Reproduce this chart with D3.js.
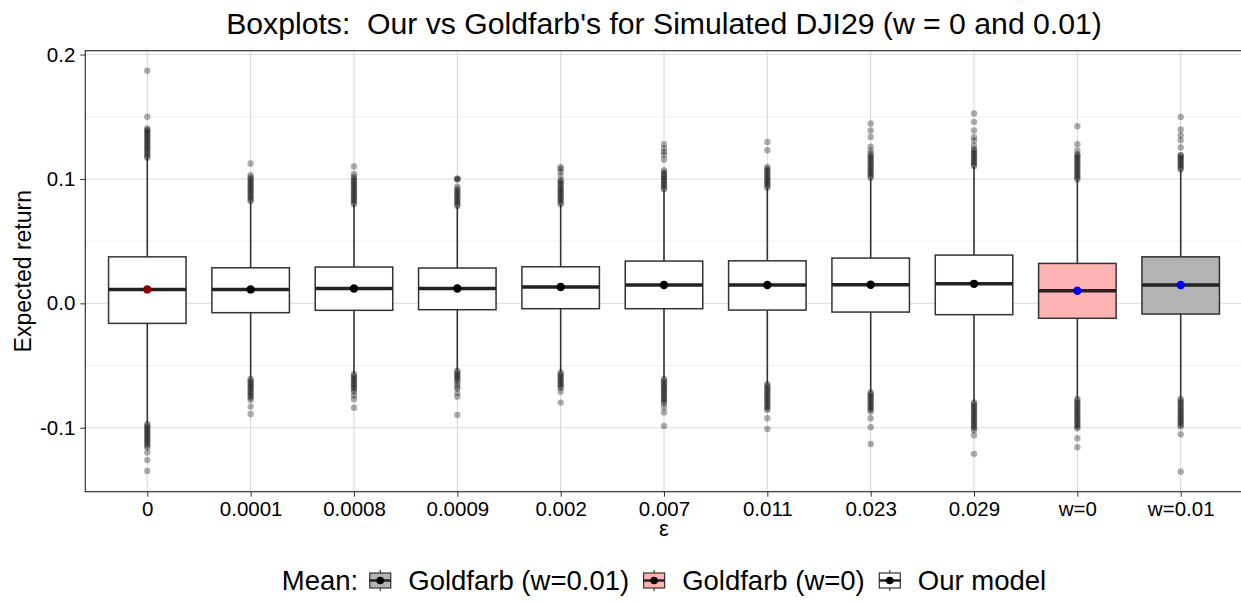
<!DOCTYPE html>
<html>
<head>
<meta charset="utf-8">
<script src="https://cdn.jsdelivr.net/npm/d3@7"></script>
<style>
  body { margin: 0; background: #fff; }
  text { font-family: "Liberation Sans", Arial, Helvetica, sans-serif; }
</style>
</head>
<body>
<div id="chart"></div>
<script>
// categories on the x axis
var categories = ['0', '0.0001', '0.0008', '0.0009', '0.002', '0.007', '0.011', '0.023', '0.029', 'w=0', 'w=0.01'];
var groups = ['Our model', 'Our model', 'Our model', 'Our model', 'Our model', 'Our model',
              'Our model', 'Our model', 'Our model', 'Goldfarb (w=0)', 'Goldfarb (w=0.01)'];

// box statistics
var q1       = [-0.0161, -0.0075, -0.0056, -0.0051, -0.0043, -0.0043, -0.0054, -0.0070, -0.0091, -0.0120, -0.0086];
var medians  = [ 0.0112,  0.0112,  0.0120,  0.0120,  0.0131,  0.0147,  0.0147,  0.0150,  0.0157,  0.0101,  0.0147];
var q3       = [ 0.0374,  0.0286,  0.0292,  0.0284,  0.0294,  0.0340,  0.0342,  0.0364,  0.0388,  0.0321,  0.0374];
var whiskLo  = [-0.0964, -0.0602, -0.0562, -0.0536, -0.0550, -0.0602, -0.0643, -0.0710, -0.0790, -0.0763, -0.0763];
var whiskHi  = [ 0.1165,  0.0816,  0.0790,  0.0776,  0.0790,  0.0910,  0.0924,  0.1004,  0.1097,  0.0990,  0.1070];
var means    = [ 0.0112,  0.0112,  0.0120,  0.0120,  0.0131,  0.0147,  0.0147,  0.0150,  0.0157,  0.0101,  0.0147];
var meanColors = ['#8b0000', '#000', '#000', '#000', '#000', '#000', '#000', '#000', '#000', '#0000ff', '#0000ff'];

// outliers, upper and lower, per category
var outliers = [
  [0.117,0.1182,0.1196,0.121,0.1223,0.1238,0.125,0.1264,0.1277,0.129,0.1305,0.1318,0.133,0.1345,0.1358,0.137,0.1384,0.1396,0.1406,0.150,0.187,
   -0.097,-0.0983,-0.0996,-0.101,-0.1022,-0.1036,-0.105,-0.1062,-0.1076,-0.109,-0.1103,-0.1117,-0.113,-0.1145,-0.116,-0.120,-0.126,-0.1347],
  [0.0822,0.0835,0.0848,0.0862,0.0875,0.0889,0.0903,0.0916,0.093,0.0944,0.0957,0.097,0.0985,0.0998,0.1012,0.103,0.1124,
   -0.0608,-0.0621,-0.0634,-0.0648,-0.0662,-0.0675,-0.0689,-0.0702,-0.0716,-0.073,-0.0744,-0.0758,-0.0777,-0.083,-0.0889],
  [0.0797,0.081,0.0824,0.0838,0.0851,0.0865,0.0879,0.0892,0.0906,0.092,0.0933,0.0947,0.096,0.0975,0.0988,0.1003,0.1017,0.104,0.110,
   -0.0568,-0.0581,-0.0595,-0.0608,-0.0622,-0.0636,-0.065,-0.0664,-0.0678,-0.0692,-0.071,-0.074,-0.077,-0.0839],
  [0.0782,0.0795,0.0809,0.0823,0.0836,0.085,0.0864,0.0878,0.0891,0.0905,0.092,0.0937,0.0995,0.100,0.1005,
   -0.0542,-0.0555,-0.0569,-0.0583,-0.0596,-0.061,-0.0624,-0.0645,-0.0668,-0.0685,-0.072,-0.075,-0.0897],
  [0.0797,0.081,0.0824,0.0838,0.0851,0.0865,0.0879,0.0893,0.0906,0.092,0.0935,0.095,0.0965,0.098,0.099,0.1025,0.1057,0.108,0.1097,
   -0.0556,-0.0569,-0.0583,-0.0597,-0.061,-0.0624,-0.0638,-0.0652,-0.0666,-0.068,-0.071,-0.0798],
  [0.0917,0.093,0.0944,0.0958,0.0971,0.0985,0.0999,0.1012,0.1026,0.104,0.1055,0.107,0.1157,0.1195,0.1218,0.1245,0.128,
   -0.0608,-0.0621,-0.0635,-0.0649,-0.0662,-0.0676,-0.069,-0.0704,-0.0718,-0.0732,-0.0746,-0.076,-0.0775,-0.079,-0.0803,-0.0835,-0.0878,-0.0986],
  [0.093,0.0943,0.0957,0.0971,0.0984,0.0998,0.1012,0.1026,0.104,0.1054,0.1068,0.1082,0.1097,0.1231,0.1298,
   -0.0649,-0.0662,-0.0676,-0.069,-0.0704,-0.0718,-0.0732,-0.0746,-0.076,-0.0774,-0.0788,-0.0802,-0.0816,-0.083,-0.0844,-0.0857,-0.0924,-0.101],
  [0.101,0.1023,0.1037,0.1051,0.1064,0.1078,0.1092,0.1106,0.112,0.1134,0.1148,0.1162,0.1176,0.119,0.1205,0.123,0.126,0.1338,0.139,0.1446,
   -0.0716,-0.0729,-0.0743,-0.0757,-0.0771,-0.0785,-0.0799,-0.0813,-0.0827,-0.0841,-0.0855,-0.087,-0.0924,-0.0996,-0.113],
  [0.1103,0.1116,0.113,0.1144,0.1158,0.1172,0.1186,0.12,0.1214,0.1228,0.124,0.127,0.131,0.1335,0.139,0.1459,0.1526,
   -0.0796,-0.0809,-0.0823,-0.0837,-0.0851,-0.0865,-0.0879,-0.0893,-0.0907,-0.0921,-0.0935,-0.0949,-0.0963,-0.0977,-0.0991,-0.1005,-0.102,-0.106,-0.121],
  [0.0996,0.1009,0.1023,0.1037,0.1051,0.1065,0.1079,0.1093,0.1107,0.1121,0.1135,0.1149,0.1163,0.1177,0.119,0.120,0.123,0.128,0.1424,
   -0.0769,-0.0782,-0.0796,-0.081,-0.0824,-0.0838,-0.0852,-0.0866,-0.088,-0.0894,-0.0908,-0.0922,-0.0936,-0.095,-0.0964,-0.0978,-0.0992,-0.1004,-0.1084,-0.1157],
  [0.1076,0.1089,0.1103,0.1117,0.1131,0.1145,0.1159,0.1173,0.1187,0.1193,0.1253,0.1312,0.1352,0.1398,0.1499,
   -0.0769,-0.0782,-0.0796,-0.081,-0.0824,-0.0838,-0.0852,-0.0866,-0.088,-0.0894,-0.0908,-0.0922,-0.0936,-0.095,-0.0964,-0.0978,-0.0991,-0.1052,-0.1353]
];

var yTicks = [-0.1, 0.0, 0.1, 0.2];
var yMinor = [-0.15, -0.05, 0.05, 0.15];

// legend entries, in the order shown
var legendGroups = ['Goldfarb (w=0.01)', 'Goldfarb (w=0)', 'Our model'];
var groupFill = { 'Our model': '#ffffff', 'Goldfarb (w=0)': '#ffb3b3', 'Goldfarb (w=0.01)': '#b3b3b3' };

var width = 1241, height = 602;
var panel = { left: 85.3, right: 1242.7, top: 50.7, bottom: 491.7 };

var svg = d3.select('#chart')
    .append('svg')
    .attr('width', width)
    .attr('height', height)
    .style('display', 'block');

//y domain like ggplot: data range plus 5% on each side
var allVals = d3.merge(outliers);
var yMin = d3.min(allVals), yMax = d3.max(allVals);
var pad = (yMax - yMin) * 0.05;

var y = d3.scaleLinear()
    .domain([yMin - pad, yMax + pad])
    .range([panel.bottom, panel.top]);

var x = d3.scalePoint()
    .domain(categories)
    .range([panel.left, panel.right])
    .padding(0.6);

var boxW = x.step() * 0.75;

// grid
var grid = svg.append('g').attr('class', 'grid');
grid.selectAll('.minor')
    .data(yMinor)
    .enter().append('line')
    .attr('x1', panel.left).attr('x2', panel.right)
    .attr('y1', function(d){ return y(d); })
    .attr('y2', function(d){ return y(d); })
    .style('stroke', '#ebebeb')
    .style('stroke-width', 0.8);

grid.selectAll('.major')
    .data(yTicks)
    .enter().append('line')
    .attr('x1', panel.left).attr('x2', panel.right)
    .attr('y1', function(d){ return y(d); })
    .attr('y2', function(d){ return y(d); })
    .style('stroke', '#dcdcdc')
    .style('stroke-width', 1);

grid.selectAll('.vmajor')
    .data(categories)
    .enter().append('line')
    .attr('x1', function(d){ return x(d); })
    .attr('x2', function(d){ return x(d); })
    .attr('y1', panel.top).attr('y2', panel.bottom)
    .style('stroke', '#d6d6d6')
    .style('stroke-width', 1);

// boxes
var boxes = svg.append('g').attr('class', 'boxes')
    .selectAll('g')
    .data(categories)
    .enter().append('g');

boxes.append('line')
    .attr('x1', function(d){ return x(d); })
    .attr('x2', function(d){ return x(d); })
    .attr('y1', function(d, i){ return y(whiskHi[i]); })
    .attr('y2', function(d, i){ return y(q3[i]); })
    .style('stroke', '#333').style('stroke-width', 1.6);

boxes.append('line')
    .attr('x1', function(d){ return x(d); })
    .attr('x2', function(d){ return x(d); })
    .attr('y1', function(d, i){ return y(q1[i]); })
    .attr('y2', function(d, i){ return y(whiskLo[i]); })
    .style('stroke', '#333').style('stroke-width', 1.6);

boxes.append('rect')
    .attr('x', function(d){ return x(d) - boxW / 2; })
    .attr('width', boxW)
    .attr('y', function(d, i){ return y(q3[i]); })
    .attr('height', function(d, i){ return y(q1[i]) - y(q3[i]); })
    .style('fill', function(d, i){ return groupFill[groups[i]]; })
    .style('stroke', '#333').style('stroke-width', 1.5);

boxes.append('line')
    .attr('x1', function(d){ return x(d) - boxW / 2; })
    .attr('x2', function(d){ return x(d) + boxW / 2; })
    .attr('y1', function(d, i){ return y(medians[i]); })
    .attr('y2', function(d, i){ return y(medians[i]); })
    .style('stroke', '#222').style('stroke-width', 3.5);

boxes.selectAll('.outlier')
    .data(function(d, i){ return outliers[i].map(function(v){ return { c: d, v: v }; }); })
    .enter().append('circle')
    .attr('class', 'outlier')
    .attr('cx', function(d){ return x(d.c); })
    .attr('cy', function(d){ return y(d.v); })
    .attr('r', 3.2)
    .style('fill', '#000')
    .style('fill-opacity', 0.32);

boxes.append('circle')
    .attr('cx', function(d){ return x(d); })
    .attr('cy', function(d, i){ return y(means[i]); })
    .attr('r', 4.2)
    .style('fill', function(d, i){ return meanColors[i]; });

// panel border
svg.append('rect')
    .attr('x', panel.left).attr('y', panel.top)
    .attr('width', panel.right - panel.left)
    .attr('height', panel.bottom - panel.top)
    .style('fill', 'none')
    .style('stroke', '#333')
    .style('stroke-width', 1.2);

// y axis
var yAxis = svg.append('g')
    .attr('transform', 'translate(' + panel.left + ',0)')
    .call(d3.axisLeft(y).tickValues(yTicks).tickSize(5).tickPadding(5)
        .tickFormat(d3.format('.1f')));
yAxis.select('.domain').remove();
yAxis.selectAll('line').style('stroke', '#333');
yAxis.selectAll('text')
    .style('font-size', '20.5px')
    .style('fill', '#000')
    .text(function(d){ return d3.format('.1f')(d).replace('−', '-'); });

// x axis
var xAxis = svg.append('g')
    .attr('transform', 'translate(0,' + panel.bottom + ')')
    .call(d3.axisBottom(x).tickSize(5).tickPadding(5));
xAxis.select('.domain').remove();
xAxis.selectAll('line').style('stroke', '#333');
xAxis.selectAll('text')
    .style('font-size', '20.5px')
    .style('fill', '#000');

// titles
svg.append('text')
    .attr('x', (panel.left + panel.right) / 2)
    .attr('y', 34)
    .attr('text-anchor', 'middle')
    .style('font-size', '30.2px')
    .style('white-space', 'pre')
    .style('fill', '#000')
    .text("Boxplots:  Our vs Goldfarb's for Simulated DJI29 (w = 0 and 0.01)");

svg.append('text')
    .attr('transform', 'translate(31,' + ((panel.top + panel.bottom) / 2) + ') rotate(-90)')
    .attr('text-anchor', 'middle')
    .style('font-size', '23px')
    .style('fill', '#000')
    .text('Expected return');

svg.append('text')
    .attr('x', (panel.left + panel.right) / 2)
    .attr('y', 536)
    .attr('text-anchor', 'middle')
    .style('font-size', '22px')
    .style('fill', '#000')
    .text('ε');

// legend
var legend = svg.append('g').attr('class', 'legend');
var legY = 590, keyCy = 580.5;
var cursor = 0;

var legTitle = legend.append('text')
    .attr('x', 0).attr('y', legY)
    .style('font-size', '27.5px')
    .text('Mean:');
cursor = legTitle.node().getComputedTextLength() + 11;

legendGroups.forEach(function(g, i){
    var key = legend.append('g').attr('transform', 'translate(' + (cursor + 11) + ',' + keyCy + ')');
    key.append('line')
        .attr('x1', 0).attr('x2', 0).attr('y1', -10.5).attr('y2', 10.5)
        .style('stroke', '#333').style('stroke-width', 1.2);
    key.append('rect')
        .attr('x', -10.5).attr('y', -7.5).attr('width', 21).attr('height', 15)
        .style('fill', groupFill[g]).style('stroke', '#333').style('stroke-width', 1.2);
    key.append('line')
        .attr('x1', -10.5).attr('x2', 10.5).attr('y1', 0).attr('y2', 0)
        .style('stroke', '#222').style('stroke-width', 2.5);
    key.append('circle')
        .attr('r', 3.8)
        .style('fill', '#000');
    cursor += 22 + 17;
    var t = legend.append('text')
        .attr('x', cursor).attr('y', legY)
        .style('font-size', '27.5px')
        .text(g);
    cursor += t.node().getComputedTextLength() + 14;
});
var legW = cursor - 14;
legend.attr('transform', 'translate(' + ((panel.left + panel.right) / 2 - legW / 2) + ',0)');
</script>
</body>
</html>
